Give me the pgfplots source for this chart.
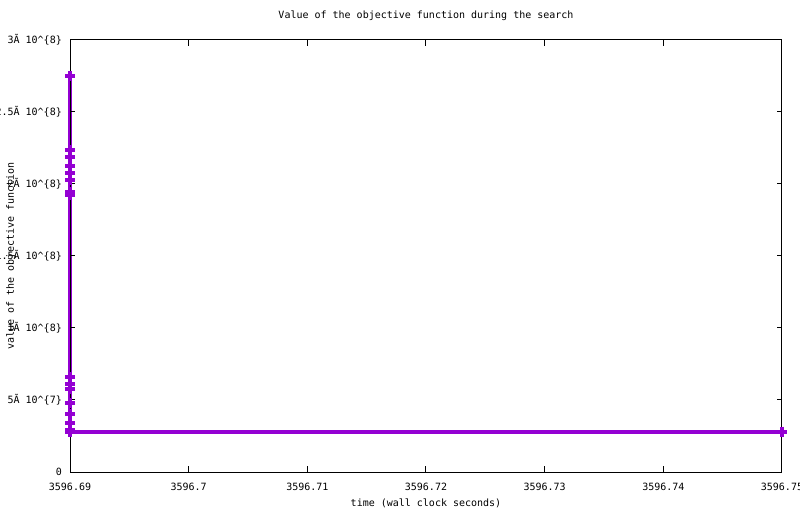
\documentclass[border=0pt]{standalone}
\usepackage{fontspec}
\setmainfont{DejaVu Sans Mono}
\usepackage{pgfplots}
\pgfplotsset{compat=1.18}
\definecolor{gpviolet}{RGB}{148,0,211}

\begin{document}
\fontsize{10}{12}\selectfont
\begin{tikzpicture}
  \useasboundingbox (0,0) rectangle (800pt,514pt);
  \begin{axis}[
    at={(70pt,42pt)}, anchor=south west,
    scale only axis,
    width=712pt, height=432pt,
    xmin=3596.69, xmax=3596.75,
    ymin=0, ymax=3e8,
    clip=false,
    axis on top,
    scaled x ticks=false, scaled y ticks=false,
    xtick={3596.69,3596.70,3596.71,3596.72,3596.73,3596.74,3596.75},
    xticklabels={3596.69,3596.7,3596.71,3596.72,3596.73,3596.74,3596.75},
    ytick={0,5e7,1e8,1.5e8,2e8,2.5e8,3e8},
    yticklabels={0,
      {5Ã 10\textasciicircum\{7\}},
      {1Ã 10\textasciicircum\{8\}},
      {1.5Ã 10\textasciicircum\{8\}},
      {2Ã 10\textasciicircum\{8\}},
      {2.5Ã 10\textasciicircum\{8\}},
      {3Ã 10\textasciicircum\{8\}}},
    tick align=inside,
    major tick length=6pt,
    axis line style={line width=1pt},
    every tick/.style={black, line width=1pt},
    tick label style={font=\fontsize{10}{12}\selectfont, inner sep=0pt},
    xticklabel style={anchor=base, yshift=-18pt},
    yticklabel style={anchor=east, xshift=-8pt},
    title={Value of the objective function during the search},
    title style={at={(axis description cs:0.5,1.037)}, anchor=base, inner sep=0pt},
    xlabel={time (wall clock seconds)},
    xlabel style={at={(axis description cs:0.5,-0.081)}, anchor=base, inner sep=0pt},
    ylabel={value of the objective function},
    ylabel style={at={(axis description cs:-0.079,0.5)}, anchor=base, rotate=0, inner sep=0pt},
  ]
    \addplot[gpviolet, line width=4pt, mark=+, mark size=5pt,
             mark options={line width=4pt}] coordinates {
      (3596.69, 2.752e8)
      (3596.69, 2.238e8)
      (3596.69, 2.188e8)
      (3596.69, 2.125e8)
      (3596.69, 2.074e8)
      (3596.69, 2.030e8)
      (3596.69, 1.945e8)
      (3596.69, 1.925e8)
      (3596.69, 0.658e8)
      (3596.69, 0.611e8)
      (3596.69, 0.574e8)
      (3596.69, 0.481e8)
      (3596.69, 0.403e8)
      (3596.69, 0.342e8)
      (3596.69, 0.290e8)
      (3596.69, 0.280e8)
      (3596.75, 0.280e8)
    };
  \end{axis}
\end{tikzpicture}
\end{document}
